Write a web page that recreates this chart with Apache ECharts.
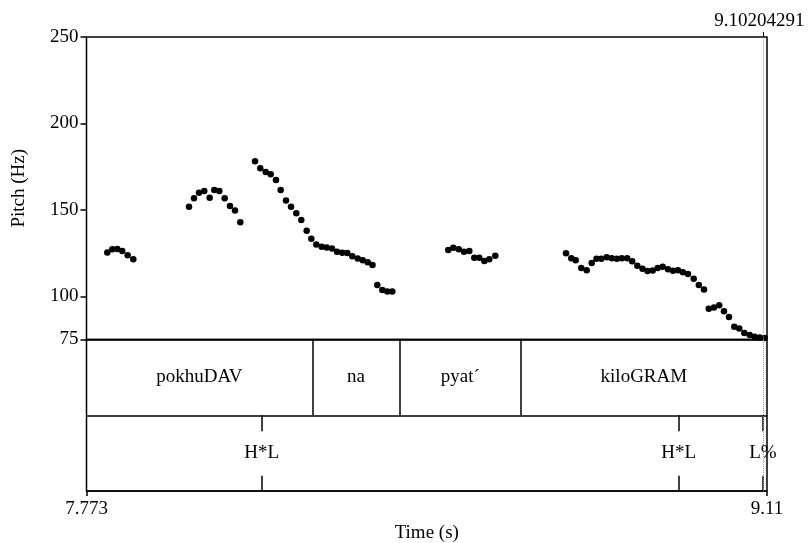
<!DOCTYPE html>
<html>
<head>
<meta charset="utf-8">
<script src="https://cdn.jsdelivr.net/npm/echarts@6/dist/echarts.min.js"></script>
<style>
  html, body { margin: 0; padding: 0; background: #fff; }
  #chart { width: 808px; height: 543px; }
</style>
</head>
<body>
<div id="chart"></div>
<script>
// Pitch track (s, Hz), one array per voiced stretch
const seg1Time = [7.8139, 7.8237, 7.8335, 7.8433, 7.8539, 7.8649];
const seg1Hz   = [125.4, 127.2, 127.4, 126.2, 123.7, 121.4];

const seg2Time = [7.9744, 7.9842, 7.9940, 8.0044, 8.0150, 8.0241, 8.0339, 8.0445, 8.0549, 8.0648, 8.0752];
const seg2Hz   = [151.8, 156.7, 159.9, 160.9, 157.0, 161.5, 160.9, 156.7, 152.2, 149.7, 142.8];

const seg3Time = [8.1041, 8.1145, 8.1251, 8.1349, 8.1453, 8.1545, 8.1650, 8.1748, 8.1852, 8.1950,
                  8.2056, 8.2147, 8.2245, 8.2351, 8.2449, 8.2553, 8.2652, 8.2756, 8.2854, 8.2952,
                  8.3058, 8.3157, 8.3255, 8.3349, 8.3443, 8.3542, 8.3640, 8.3738];
const seg3Hz   = [178.1, 174.0, 171.9, 170.6, 167.3, 161.5, 155.4, 151.8, 148.0, 144.1,
                  137.9, 133.3, 130.0, 128.7, 128.2, 127.6, 125.7, 125.2, 125.0, 123.1,
                  121.9, 120.9, 119.7, 118.1, 106.5, 103.6, 102.7, 102.7];

const seg4Time = [8.4838, 8.4937, 8.5043, 8.5147, 8.5251, 8.5349, 8.5447, 8.5546, 8.5644, 8.5762];
const seg4Hz   = [126.8, 128.1, 127.2, 125.8, 126.2, 122.3, 122.3, 120.4, 121.4, 123.5];

const seg5Time = [8.7151, 8.7255, 8.7341, 8.7451, 8.7557, 8.7656, 8.7750, 8.7844, 8.7950, 8.8049,
                  8.8149, 8.8247, 8.8353, 8.8451, 8.8552, 8.8654, 8.8752, 8.8854, 8.8952, 8.9051,
                  8.9155, 8.9253, 8.9351, 8.9449, 8.9548, 8.9660, 8.9760, 8.9862, 8.9956, 9.0058,
                  9.0161, 9.0255, 9.0353, 9.0457, 9.0555, 9.0654, 9.0760, 9.0858, 9.0957, 9.1055];
const seg5Hz   = [124.9, 122.0, 120.8, 116.4, 115.0, 119.3, 121.7, 121.7, 122.6, 122.0,
                  121.7, 122.0, 122.0, 120.2, 117.7, 115.9, 114.7, 114.9, 116.4, 117.1,
                  115.7, 114.8, 115.0, 113.9, 112.9, 110.2, 106.5, 103.9, 92.8, 93.5,
                  94.8, 91.4, 88.0, 82.4, 81.3, 78.8, 77.6, 76.6, 76.2, 75.9];

// Axis ranges and tick labels
const timeStart = 7.773;
const timeEnd = 9.11;
const cursorTime = 9.10204291;
const pitchMin = 75;
const pitchMax = 250;
const pitchTicks = [75, 100, 150, 200, 250];

// Word tier (interval boundaries) and tone tier (points)
const wordBounds = [7.773, 8.2166, 8.3884, 8.6261, 9.11];
const words = ['pokhuDAV', 'na', 'pyat\u00b4', 'kiloGRAM'];
const toneTimes = [8.1172, 8.9365, 9.10204291];
const tones = ['H*L', 'H*L', 'L%'];

const FONT = '"Liberation Serif", "Times New Roman", serif';
const FS = 19;
const INK = '#000';

function zipPts(ts, vs) { return ts.map((t, i) => [t, vs[i]]); }
const pitchPts = []
  .concat(zipPts(seg1Time, seg1Hz))
  .concat(zipPts(seg2Time, seg2Hz))
  .concat(zipPts(seg3Time, seg3Hz))
  .concat(zipPts(seg4Time, seg4Hz))
  .concat(zipPts(seg5Time, seg5Hz));

const wordLabels = words.map((w, i) => [(wordBounds[i] + wordBounds[i + 1]) / 2, 1.5, w]);
const toneLabels = tones.map((s, i) => [toneTimes[i], 0.5, s]);

const wordLines = wordBounds.slice(1, -1).map(t => [{ coord: [t, 1] }, { coord: [t, 2] }]);
const toneLines = [];
toneTimes.forEach(t => {
  toneLines.push([{ coord: [t, 1] }, { coord: [t, 0.79] }]);
  toneLines.push([{ coord: [t, 0.2] }, { coord: [t, 0] }]);
});

const chart = echarts.init(document.getElementById('chart'), null, { renderer: 'canvas' });

const txt = { color: INK, fontFamily: FONT, fontSize: FS };

chart.setOption({
  animation: false,
  backgroundColor: '#fff',
  grid: [
    { left: 86.5, top: 37, width: 680.5, height: 302.5, show: true, borderColor: INK, borderWidth: 1.5,
      backgroundColor: 'transparent', containLabel: false, outerBoundsMode: 'none' },
    { left: 86.5, top: 339.5, width: 680.5, height: 151.5, show: true, borderColor: INK, borderWidth: 1.5,
      backgroundColor: 'transparent', containLabel: false, outerBoundsMode: 'none' }
  ],
  xAxis: [
    {
      gridIndex: 0, type: 'value', position: 'top', min: timeStart, max: timeEnd,
      axisLine: { show: false },
      axisTick: { show: true, customValues: [cursorTime], length: 5, lineStyle: { color: INK, width: 1 } },
      axisLabel: { show: true, customValues: [cursorTime], formatter: v => String(v), margin: 6,
                   padding: [0, 7, 0, 0], hideOverlap: false, ...txt },
      splitLine: { show: false }
    },
    {
      gridIndex: 1, type: 'value', position: 'bottom', min: timeStart, max: timeEnd,
      axisLine: { show: false },
      axisTick: { show: true, customValues: [timeStart, timeEnd], length: 5, lineStyle: { color: INK, width: 1.5 } },
      axisLabel: { show: true, customValues: [timeStart, timeEnd], formatter: v => String(v), margin: 9, ...txt },
      splitLine: { show: false },
      name: 'Time (s)', nameLocation: 'middle', nameGap: 33,
      nameTextStyle: { ...txt }
    }
  ],
  yAxis: [
    {
      gridIndex: 0, type: 'value', min: pitchMin, max: pitchMax,
      axisLine: { show: false },
      axisTick: { show: true, customValues: pitchTicks, length: 6, lineStyle: { color: INK, width: 1.5 } },
      axisLabel: { show: true, customValues: pitchTicks, margin: 8, ...txt },
      splitLine: { show: false },
      name: 'Pitch (Hz)', nameLocation: 'middle', nameGap: 58, nameRotate: 90,
      nameTextStyle: { ...txt }
    },
    {
      gridIndex: 1, type: 'value', min: 0, max: 2, interval: 1,
      axisLine: { show: false }, axisTick: { show: false }, axisLabel: { show: false },
      splitLine: { show: true, lineStyle: { color: INK, width: 1.5 } }
    }
  ],
  series: [
    {
      type: 'scatter', xAxisIndex: 0, yAxisIndex: 0,
      data: pitchPts, symbol: 'circle', symbolSize: 6.5,
      itemStyle: { color: INK, opacity: 1 },
      markLine: {
        silent: true, symbol: 'none', animation: false,
        label: { show: false },
        lineStyle: { color: '#9a9a9a', type: 'dotted', width: 1 },
        data: [[{ coord: [cursorTime, pitchMin] }, { coord: [cursorTime, pitchMax] }]]
      }
    },
    {
      type: 'scatter', xAxisIndex: 1, yAxisIndex: 1,
      data: wordLabels.concat(toneLabels), symbolSize: 1,
      itemStyle: { color: 'rgba(255,255,255,0)', opacity: 1 },
      label: { show: true, position: 'inside', formatter: p => p.data[2], opacity: 1, ...txt },
      markLine: {
        silent: true, symbol: 'none', animation: false,
        label: { show: false },
        lineStyle: { color: INK, type: 'solid', width: 1.5 },
        data: wordLines.concat(toneLines)
      }
    },
    {
      type: 'line', xAxisIndex: 1, yAxisIndex: 1, data: [], symbol: 'none',
      markLine: {
        silent: true, symbol: 'none', animation: false,
        label: { show: false },
        lineStyle: { color: '#9a9a9a', type: 'dotted', width: 1 },
        data: [[{ coord: [cursorTime, 0] }, { coord: [cursorTime, 2] }]]
      }
    }
  ]
});
</script>
</body>
</html>
